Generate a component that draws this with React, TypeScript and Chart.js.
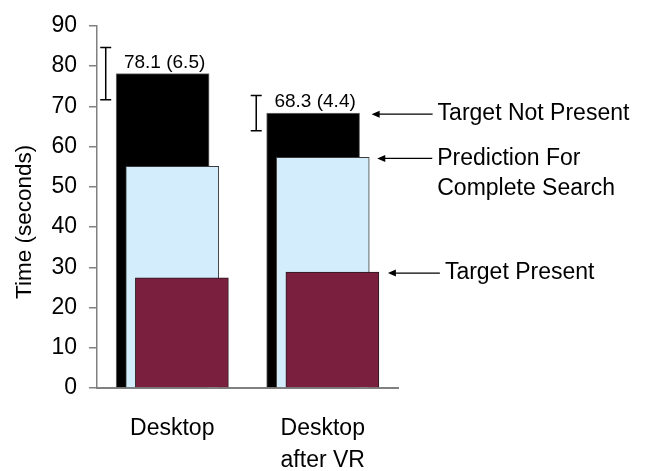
import { useEffect, useRef } from 'react';
import { Chart, registerables } from 'chart.js';

Chart.register(...registerables);

// ---- data ----
const categories: string[][] = [['Desktop'], ['Desktop', 'after VR']];
const targetNotPresent = [78.1, 68.3];
const targetNotPresentSD = [6.5, 4.4];
const predictionComplete = [55.1, 57.3];
const targetPresent = [27.4, 28.8];
const seriesNames: string[][] = [['Target Not Present'], ['Prediction For', 'Complete Search'], ['Target Present']];
const yTitle = 'Time (seconds)';
const yMin = 0;
const yMax = 90;
const yStep = 10;

// ---- style / layout ----
const FONT = "'Liberation Sans', Arial, sans-serif";
const SHIFT = 0.064; // bar offset within a group (axis units)
const ERR_X = 0.058; // error bar x position within a group (axis units)
const BAR_W = 93;
const AXIS_GRAY = '#808080';
const arrowGap = [12, 8, 9];
const arrowLen = [61, 55, 52];

const overlay = {
  id: 'overlay',
  afterDatasetsDraw(chart: any) {
    const { ctx, scales } = chart;
    const x = scales.x;
    const y = scales.y;
    ctx.save();
    // error bars + value labels on "Target Not Present"
    const blackMeta = chart.getDatasetMeta(2);
    targetNotPresent.forEach((v, i) => {
      const sd = targetNotPresentSD[i];
      const px = x.getPixelForValue(i + ERR_X);
      const top = y.getPixelForValue(v + sd);
      const bot = y.getPixelForValue(v - sd);
      ctx.strokeStyle = '#000';
      ctx.lineWidth = 1.5;
      ctx.beginPath();
      ctx.moveTo(px, top);
      ctx.lineTo(px, bot);
      ctx.moveTo(px - 5.5, top);
      ctx.lineTo(px + 5.5, top);
      ctx.moveTo(px - 5.5, bot);
      ctx.lineTo(px + 5.5, bot);
      ctx.stroke();
      const bar = blackMeta.data[i];
      ctx.fillStyle = '#000';
      ctx.font = `19px ${FONT}`;
      ctx.textAlign = 'center';
      ctx.textBaseline = 'alphabetic';
      ctx.fillText(`${v} (${sd})`, bar.x + 2, bar.y - 6);
    });

    // arrows with series names, pointing at the last group
    const last = categories.length - 1;
    const metas = [chart.getDatasetMeta(2), chart.getDatasetMeta(1), chart.getDatasetMeta(0)];
    metas.forEach((meta: any, s: number) => {
      const bar = meta.data[last];
      const right = bar.x + bar.width / 2;
      const tipX = right + arrowGap[s];
      const tailX = tipX + arrowLen[s];
      const ay = bar.y + 1;
      ctx.strokeStyle = '#000';
      ctx.fillStyle = '#000';
      ctx.lineWidth = 1.3;
      ctx.beginPath();
      ctx.moveTo(tipX + 6, ay);
      ctx.lineTo(tailX, ay);
      ctx.stroke();
      ctx.beginPath();
      ctx.moveTo(tipX, ay);
      ctx.lineTo(tipX + 8, ay - 3.5);
      ctx.lineTo(tipX + 8, ay + 3.5);
      ctx.closePath();
      ctx.fill();
      ctx.font = `23px ${FONT}`;
      ctx.textAlign = 'left';
      ctx.textBaseline = 'middle';
      seriesNames[s].forEach((line, k) => {
        ctx.fillText(line, tailX + 5, ay + k * 30);
      });
    });

    // y axis title
    ctx.save();
    ctx.translate(25, (y.top + y.bottom) / 2 + 15);
    ctx.rotate(-Math.PI / 2);
    ctx.font = `22.5px ${FONT}`;
    ctx.textAlign = 'center';
    ctx.textBaseline = 'middle';
    ctx.fillStyle = '#000';
    ctx.fillText(yTitle, 0, 0);
    ctx.restore();

    ctx.restore();
  },
};

export default function App() {
  const ref = useRef<HTMLCanvasElement | null>(null);

  useEffect(() => {
    if (!ref.current) return;
    const pts = (vals: number[], shift: number) => vals.map((v, i) => ({ x: i + 0.5 + shift, y: v }));
    const chart = new Chart(ref.current, {
      type: 'bar',
      data: {
        datasets: [
          {
            label: seriesNames[2].join(' '),
            data: pts(targetPresent, SHIFT),
            backgroundColor: '#7B1F3F',
            borderColor: '#2a1a1f',
            borderWidth: 1,
          },
          {
            label: seriesNames[1].join(' '),
            data: pts(predictionComplete, 0),
            backgroundColor: '#D3EDFC',
            borderColor: '#3a3a3a',
            borderWidth: 1,
          },
          {
            label: seriesNames[0].join(' '),
            data: pts(targetNotPresent, -SHIFT),
            backgroundColor: '#000000',
            borderColor: '#707070',
            borderWidth: 1,
          },
        ] as any,
      },
      options: {
        animation: false,
        responsive: true,
        maintainAspectRatio: false,
        layout: { padding: { top: 23, right: 253, left: 0, bottom: 0 } },
        datasets: {
          bar: { grouped: false, barThickness: BAR_W } as any,
        },
        plugins: {
          legend: { display: false },
          tooltip: { enabled: false },
        },
        scales: {
          x: {
            type: 'linear',
            offset: false,
            min: 0,
            max: categories.length,
            grid: { display: false, offset: false },
            border: { display: true, color: AXIS_GRAY, width: 2 },
            afterBuildTicks: (scale: any) => {
              scale.ticks = categories.map((_, i) => ({ value: i + 0.5 }));
            },
            afterFit: (scale: any) => {
              scale.height = 83;
            },
            ticks: {
              autoSkip: false,
              maxRotation: 0,
              padding: 16,
              color: '#000',
              font: { family: FONT, size: 23, lineHeight: 1.42 },
              callback: (value: any) => categories[Math.round(Number(value) - 0.5)] as any,
            },
          },
          y: {
            min: yMin,
            max: yMax,
            grid: {
              drawOnChartArea: false,
              drawTicks: true,
              tickLength: 8,
              color: AXIS_GRAY,
              lineWidth: 1.5,
            },
            border: { display: true, color: AXIS_GRAY, width: 1.5 },
            afterFit: (scale: any) => {
              scale.width = 97;
            },
            ticks: {
              stepSize: yStep,
              padding: 12,
              color: '#000',
              font: { family: FONT, size: 23 },
            },
          },
        },
      },
      plugins: [overlay],
    });
    return () => chart.destroy();
  }, []);

  return (
    <div style={{ position: 'absolute', left: 0, top: 0, width: 651, height: 471, background: '#fff' }}>
      <canvas ref={ref} />
    </div>
  );
}
